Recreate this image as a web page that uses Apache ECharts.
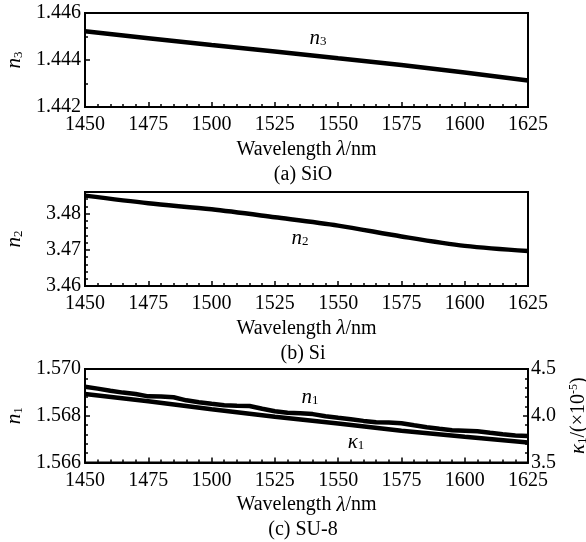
<!DOCTYPE html>
<html>
<head>
<meta charset="utf-8">
<script src="https://cdn.jsdelivr.net/npm/echarts@6/dist/echarts.min.js"></script>
<style>
	html, body { margin: 0; padding: 0; background: #fff; }
	#chart { width: 586px; height: 542px; }
</style>
</head>
<body>
<div id="chart"></div>
<script>
// 波长（nm）
const lambdaA = [1450, 1475, 1500, 1525, 1550, 1575, 1600, 1625]
const lambdaB = [1450, 1475, 1500, 1525, 1550, 1575, 1600, 1625]
const lambdaC = [1450, 1455, 1460, 1465, 1470, 1475, 1480, 1485, 1490, 1495, 1500, 1505,
	1510, 1515, 1520, 1525, 1530, 1535, 1540, 1545, 1550, 1555, 1560, 1565,
	1570, 1575, 1580, 1585, 1590, 1595, 1600, 1605, 1610, 1615, 1620, 1625]
const lambdaK = [1450, 1475, 1500, 1525, 1550, 1575, 1600, 1625]

// (a) SiO
const n3 = [1.44522, 1.44493, 1.44464, 1.44436, 1.44407, 1.44379, 1.44347, 1.44313]
// (b) Si
const n2 = [3.4850, 3.4829, 3.4812, 3.4790, 3.4767, 3.4737, 3.4711, 3.4697]
// (c) SU-8
const n1 = [1.56924, 1.56916, 1.56907, 1.56899, 1.56893, 1.56883, 1.56882, 1.56879, 1.56866, 1.56858, 1.56851, 1.56845,
	1.56843, 1.56842, 1.56830, 1.56819, 1.56813, 1.56811, 1.56807, 1.56798, 1.56791, 1.56785, 1.56778, 1.56772,
	1.56771, 1.56768, 1.56759, 1.56751, 1.56744, 1.56738, 1.56736, 1.56734, 1.56727, 1.56721, 1.56716, 1.56713]
const kappa1 = [4.232, 4.155, 4.070, 3.990, 3.918, 3.840, 3.775, 3.713]

// 刻度
const ticksA = [1.442, 1.444, 1.446]
const ticksB = [3.46, 3.47, 3.48]
const ticksC = [1.566, 1.568, 1.570]
const ticksK = [3.5, 4.0, 4.5]

const FONT = "Liberation Serif"
const grids = [
	{left: 85, right: 58, top: 13, height: 94},
	{left: 85, right: 58, top: 192, height: 94},
	{left: 85, right: 58, top: 369, height: 93.5}
]

let richSub = {
	i: {fontStyle: "italic", fontFamily: FONT, fontSize: 21, color: "#000"},
	s: {fontFamily: FONT, fontSize: 13, color: "#000", verticalAlign: "bottom"},
	p: {fontFamily: FONT, fontSize: 12, color: "#000", verticalAlign: "top"},
	t: {fontFamily: FONT, fontSize: 20, color: "#000"}
}

function xAxisFor(gridIndex) {
	return {
		type: "value",
		gridIndex: gridIndex,
		min: 1450,
		max: 1625,
		interval: 25,
		axisLine: {show: true, onZero: false, lineStyle: {color: "#000", width: 2}},
		axisTick: {show: true, inside: true, length: 5, lineStyle: {color: "#000", width: 1.5}},
		minorTick: {show: true, splitNumber: 5, length: 3, lineStyle: {color: "#000", width: 1.5}},
		splitLine: {show: false},
		axisLabel: {
			color: "#000", fontFamily: FONT, fontSize: 20, margin: 8,
			formatter: function (v) {
				return String(v)
			}
		},
		name: "{t|Wavelength }{i|λ}{t|/nm}",
		nameLocation: "middle",
		nameGap: 32,
		nameTextStyle: {color: "#000", fontFamily: FONT, fontSize: 20, rich: richSub}
	}
}

function yAxisFor(gridIndex, min, max, interval, minorSplit, digits, name, labels) {
	return {
		type: "value",
		gridIndex: gridIndex,
		position: "left",
		min: min,
		max: max,
		interval: interval,
		axisLine: {show: true, onZero: false, lineStyle: {color: "#000", width: 2}},
		axisTick: {show: true, inside: true, length: 5, lineStyle: {color: "#000", width: 1.5}},
		minorTick: {show: minorSplit > 0, splitNumber: minorSplit, length: 3, lineStyle: {color: "#000", width: 1.5}},
		splitLine: {show: false},
		axisLabel: {
			color: "#000", fontFamily: FONT, fontSize: 20, margin: 4,
			formatter: function (v) {
				let hit = labels.some(function (t) {
					return Math.abs(t - v) < 1e-9
				})
				return hit ? v.toFixed(digits) : ""
			}
		},
		name: name,
		nameLocation: "middle",
		nameGap: 60,
		nameTextStyle: {color: "#000", fontFamily: FONT, fontSize: 20, rich: richSub}
	}
}

function pairs(xs, ys) {
	return xs.map(function (x, i) {
		return [x, ys[i]]
	})
}

// (b) 的小刻度间隔 0.002，另加一条只画主刻度的轴
let yB = yAxisFor(1, 3.46, 3.486, 0.002, 0, 2, "{i|n}{s|2}", ticksB)
yB.axisTick.length = 3
let yBMajor = {
	type: "value",
	gridIndex: 1,
	position: "left",
	min: 3.46,
	max: 3.486,
	interval: 0.01,
	axisLine: {show: false},
	axisTick: {show: true, inside: true, length: 5, lineStyle: {color: "#000", width: 1.5}},
	axisLabel: {show: false},
	splitLine: {show: false}
}

let yK = yAxisFor(2, 3.5, 4.5, 0.5, 5, 1, "{i|κ}{s|1}{t|/(×10}{p|-5}{t|)}", ticksK)
yK.position = "right"
yK.nameGap = 40
yK.nameRotate = 90
yK.axisLabel.margin = 3

let option = {
	backgroundColor: "#fff",
	animation: false,
	grid: grids.map(function (g) {
		return Object.assign({show: true, borderColor: "#000", borderWidth: 2, containLabel: false, outerBoundsMode: "none"}, g)
	}),
	xAxis: [xAxisFor(0), xAxisFor(1), xAxisFor(2)],
	yAxis: [
		yAxisFor(0, 1.442, 1.446, 0.002, 2, 3, "{i|n}{s|3}", ticksA),
		yB,
		yAxisFor(2, 1.566, 1.570, 0.002, 5, 3, "{i|n}{s|1}", ticksC),
		yK,
		yBMajor
	],
	series: [
		{type: "line", xAxisIndex: 0, yAxisIndex: 0, data: pairs(lambdaA, n3), showSymbol: false, symbol: "none",
			lineStyle: {color: "#000", width: 4.5}},
		{type: "line", xAxisIndex: 1, yAxisIndex: 1, data: pairs(lambdaB, n2), showSymbol: false, symbol: "none",
			smooth: 0.3, lineStyle: {color: "#000", width: 4.5}},
		{type: "line", xAxisIndex: 2, yAxisIndex: 2, data: pairs(lambdaC, n1), showSymbol: false, symbol: "none",
			lineStyle: {color: "#000", width: 4.5}},
		{type: "line", xAxisIndex: 2, yAxisIndex: 3, data: pairs(lambdaK, kappa1), showSymbol: false, symbol: "none",
			lineStyle: {color: "#000", width: 4.5}}
	],
	graphic: [
		{type: "text", x: 318, y: 38, style: {text: "{i|n}{s|3}", rich: richSub, align: "center", verticalAlign: "middle"}},
		{type: "text", x: 300, y: 238, style: {text: "{i|n}{s|2}", rich: richSub, align: "center", verticalAlign: "middle"}},
		{type: "text", x: 310, y: 397, style: {text: "{i|n}{s|1}", rich: richSub, align: "center", verticalAlign: "middle"}},
		{type: "text", x: 356, y: 442, style: {text: "{i|κ}{s|1}", rich: richSub, align: "center", verticalAlign: "middle"}},
		{type: "text", x: 303, y: 175, style: {text: "(a) SiO", fontFamily: FONT, fontSize: 20, fill: "#000", align: "center", verticalAlign: "middle"}},
		{type: "text", x: 303, y: 354, style: {text: "(b) Si", fontFamily: FONT, fontSize: 20, fill: "#000", align: "center", verticalAlign: "middle"}},
		{type: "text", x: 303, y: 530, style: {text: "(c) SU-8", fontFamily: FONT, fontSize: 20, fill: "#000", align: "center", verticalAlign: "middle"}}
	]
}

let chart = echarts.init(document.getElementById("chart"))
chart.setOption(option)
</script>
</body>
</html>
